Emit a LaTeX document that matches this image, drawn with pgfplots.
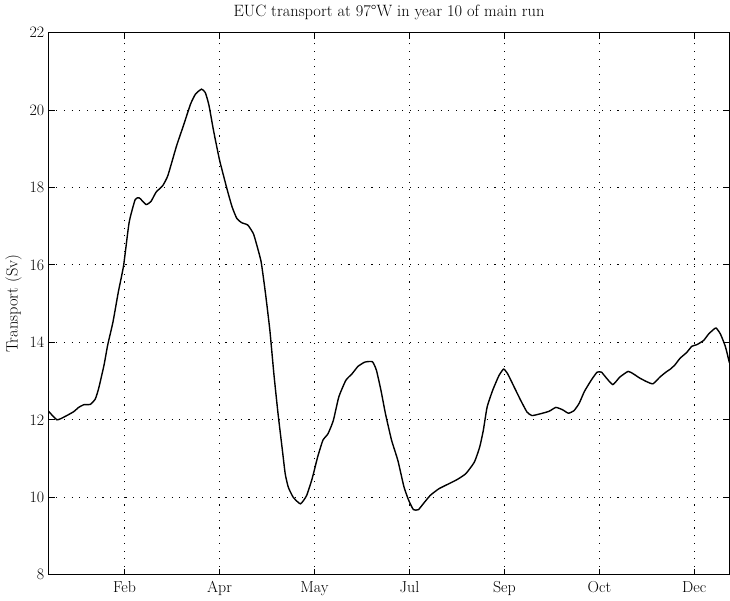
\documentclass[border=0pt]{standalone}
\usepackage{pgfplots}
\pgfplotsset{compat=1.18}
\begin{document}
\fontsize{16}{19}\selectfont
\begin{tikzpicture}
\begin{axis}[
  scale only axis,
  width=682bp, height=543bp,
  xmin=10, xmax=368.5,
  ymin=8, ymax=22,
  xtick={50,100,150,200,250,300,350},
  xticklabels={Feb,Apr,May,Jul,Sep,Oct,Dec},
  ytick={8,10,...,22},
  tick align=inside,
  major tick length=6bp,
  tick style={black, line width=1bp},
  axis line style={line width=1.1bp},
  grid=major,
  major grid style={black, line width=1.1bp, dash pattern=on 1.1bp off 6.6bp},
  /pgf/number format/assume math mode=true,
  ticklabel style={font=\fontsize{16}{19}\selectfont},
  yticklabel style={xshift=1bp},
  title={EUC transport at 97\textdegree W in year 10 of main run},
  title style={font=\fontsize{16.5}{19}\selectfont, yshift=1bp},
  ylabel={Transport (Sv)},
  ylabel style={font=\fontsize{16.5}{19}\selectfont, yshift=-3bp},
  xticklabel style={yshift=-1bp},
]
\addplot[black, line width=1.4bp, smooth, tension=0.3] coordinates {
(10,12.22) (14.4,12.00) (18.8,12.09) (23.2,12.21) (25.8,12.32) (28.5,12.39)
(32.0,12.40) (34.6,12.54) (36.4,12.82) (39.2,13.42) (41.1,13.93) (43.9,14.53)
(46.7,15.30) (49.5,15.99) (52.4,17.10) (55.6,17.69) (57.8,17.73) (61.3,17.56)
(63.9,17.64) (66.6,17.88) (70.1,18.05) (72.8,18.31) (77.4,19.08) (81.0,19.60)
(84.7,20.15) (87.3,20.41) (90.5,20.54) (92.5,20.45) (94.4,20.13) (96.8,19.48)
(100.0,18.71) (104.1,17.93) (106.6,17.50) (109.1,17.20) (111.7,17.09) (114.9,17.03)
(117.8,16.81) (119.4,16.55) (121.9,16.08) (124.2,15.26) (126.5,14.31) (128.6,13.19)
(130.8,12.16) (133.1,11.21) (134.6,10.60) (136.2,10.26) (138.8,10.00) (142.6,9.83)
(145.8,10.04) (148.7,10.47) (151.6,11.03) (154.4,11.47) (157.1,11.64) (159.9,11.98)
(162.8,12.59) (166.5,13.02) (169.8,13.19) (172.9,13.38) (176.5,13.49) (180.5,13.50)
(182.6,13.28) (185.0,12.76) (187.4,12.15) (190.6,11.47) (193.9,10.95) (197.1,10.27)
(199.6,9.92) (202.1,9.68) (204.7,9.68) (207.4,9.84) (211.0,10.05) (215.5,10.22)
(220.8,10.35) (225.2,10.46) (229.7,10.61) (234.2,10.91) (237.0,11.30) (238.9,11.73)
(240.9,12.33) (243.8,12.76) (247.1,13.14) (249.6,13.31) (251.8,13.18) (255.2,12.84)
(258.6,12.50) (261.9,12.20) (264.5,12.11) (268.5,12.15) (273.5,12.22) (277.1,12.32)
(280.6,12.26) (283.7,12.17) (286.7,12.24) (289.4,12.43) (292.1,12.73) (295.8,13.03)
(298.8,13.23) (301.1,13.23) (303.7,13.08) (307.1,12.91) (310.7,13.10) (315.1,13.25)
(317.8,13.19) (321.2,13.08) (324.7,12.99) (328.2,12.93) (331.8,13.10) (335.0,13.23)
(337.4,13.31) (339.8,13.42) (342.5,13.59) (346.0,13.74) (348.7,13.90) (351.3,13.94)
(354.9,14.05) (357.6,14.22) (360.3,14.34) (361.5,14.37) (363.7,14.22) (366.3,13.90)
(368.5,13.47)
};
\end{axis}
\end{tikzpicture}
\end{document}
